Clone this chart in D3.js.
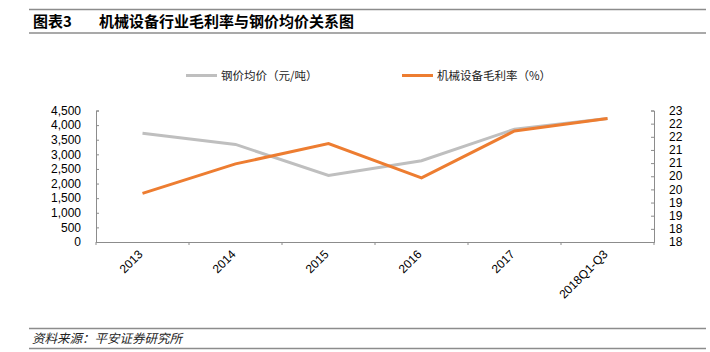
<!DOCTYPE html>
<html>
<head>
<meta charset="utf-8">
<script src="https://cdn.jsdelivr.net/npm/d3@7"></script>
<style>
  body { margin: 0; background: #fff; }
  text { font-family: "Liberation Sans", Arial, "Noto Sans CJK SC", sans-serif; }
  .cjk { font-family: "Noto Sans CJK SC", sans-serif; }
</style>
</head>
<body>
<div id="chart"></div>
<script>
// ******* Data *******
var categories = ["2013", "2014", "2015", "2016", "2017", "2018Q1-Q3"];
var steelPrice = [3720, 3340, 2280, 2780, 3860, 4230];      // 元/吨, left axis
var grossMargin = [19.85, 20.97, 21.74, 20.44, 22.22, 22.70]; // %, right axis
var leftTicks = [0, 500, 1000, 1500, 2000, 2500, 3000, 3500, 4000, 4500];
var rightTicks = [18, 18.5, 19, 19.5, 20, 20.5, 21, 21.5, 22, 22.5, 23];
var rightTickLabels = ["18", "18", "19", "19", "20", "20", "21", "21", "22", "22", "23"];
var seriesNames = ["钢价均价（元/吨）", "机械设备毛利率（%）"];
var colour = ["#BFBFBF", "#ED7D31"];

// ******* Set up *******
var w = 710, h = 352;
var plotLeft = 96, plotRight = 654, plotTop = 110.5, plotBottom = 242;
var svg = d3.select("#chart").append("svg").attr("width", w).attr("height", h);

var x = d3.scaleBand().domain(categories).range([plotLeft, plotRight]);
var yL = d3.scaleLinear().domain([0, 4500]).range([plotBottom, plotTop]);
var yR = d3.scaleLinear().domain([18, 23]).range([plotBottom, plotTop]);

// ******* Title and footer rules *******
svg.append("line").attr("x1", 29).attr("x2", 706).attr("y1", 9.5).attr("y2", 9.5)
  .attr("stroke", "#8c8c8c").attr("stroke-width", 1.5);
svg.append("line").attr("x1", 29).attr("x2", 706).attr("y1", 33).attr("y2", 33)
  .attr("stroke", "#8c8c8c").attr("stroke-width", 1.5);
svg.append("text").attr("class", "cjk").attr("x", 33).attr("y", 27)
  .style("font-size", "15px").style("font-weight", "bold").text("图表3");
svg.append("text").attr("class", "cjk").attr("x", 99).attr("y", 27)
  .style("font-size", "15px").style("font-weight", "bold").text("机械设备行业毛利率与钢价均价关系图");

svg.append("line").attr("x1", 29).attr("x2", 706).attr("y1", 328.5).attr("y2", 328.5)
  .attr("stroke", "#8c8c8c").attr("stroke-width", 1.5);
svg.append("line").attr("x1", 29).attr("x2", 706).attr("y1", 348.5).attr("y2", 348.5)
  .attr("stroke", "#8c8c8c").attr("stroke-width", 1.5);
svg.append("text").attr("class", "cjk").attr("x", 32).attr("y", 343)
  .style("font-size", "12.5px").style("font-style", "italic").attr("fill", "#222")
  .text("资料来源：平安证券研究所");

// ******* Axes *******
var axisColour = "#8c8c8c";
var gL = svg.append("g").attr("transform", `translate(${plotLeft},0)`)
  .call(d3.axisRight(yL).tickValues(leftTicks).tickSize(3).tickFormat(""));
var gR = svg.append("g").attr("transform", `translate(${plotRight},0)`)
  .call(d3.axisLeft(yR).tickValues(rightTicks).tickSize(3).tickFormat(""));
var gX = svg.append("g").attr("transform", `translate(0,${plotBottom})`)
  .call(d3.axisBottom(x).tickSize(0).tickFormat(""));
[gL, gR, gX].forEach(g => {
  g.select(".domain").attr("stroke", axisColour);
  g.selectAll(".tick line").attr("stroke", axisColour);
});

// x tick marks at band edges
svg.selectAll(".xtick")
  .data(categories.concat(["end"]))
  .enter().append("line")
  .attr("x1", (d, i) => i < categories.length ? x(d) : plotRight)
  .attr("x2", (d, i) => i < categories.length ? x(d) : plotRight)
  .attr("y1", plotBottom).attr("y2", plotBottom + 3)
  .attr("stroke", axisColour);

// tick labels
svg.selectAll(".ylabel")
  .data(leftTicks).enter().append("text")
  .attr("x", 81).attr("y", d => yL(d)).attr("dy", "0.35em")
  .attr("text-anchor", "end").style("font-size", "12px")
  .text(d => d3.format(",")(d));

svg.selectAll(".rlabel")
  .data(rightTicks).enter().append("text")
  .attr("x", 669).attr("y", d => yR(d)).attr("dy", "0.35em")
  .style("font-size", "12px")
  .text((d, i) => rightTickLabels[i]);

svg.selectAll(".xlabel")
  .data(categories).enter().append("text")
  .attr("transform", d => `translate(${x(d) + x.bandwidth() / 2 + 1},${plotBottom + 13}) rotate(-45)`)
  .attr("text-anchor", "end").style("font-size", "12px")
  .text(d => d);

// ******* Lines *******
var lineL = d3.line().x((d, i) => x(categories[i]) + x.bandwidth() / 2).y(d => yL(d));
var lineR = d3.line().x((d, i) => x(categories[i]) + x.bandwidth() / 2).y(d => yR(d));

svg.append("path").attr("d", lineL(steelPrice))
  .attr("fill", "none").attr("stroke", colour[0]).attr("stroke-width", 3);
svg.append("path").attr("d", lineR(grossMargin))
  .attr("fill", "none").attr("stroke", colour[1]).attr("stroke-width", 3);

// ******* Legend *******
var legendX = [186, 402];
seriesNames.forEach((name, i) => {
  svg.append("line").attr("x1", legendX[i]).attr("x2", legendX[i] + 31)
    .attr("y1", 75.5).attr("y2", 75.5)
    .attr("stroke", colour[i]).attr("stroke-width", 3);
  svg.append("text").attr("class", "cjk").attr("x", legendX[i] + 35).attr("y", 75.5)
    .attr("dy", "0.35em").style("font-size", "11.5px").attr("fill", "#222")
    .text(name);
});
</script>
</body>
</html>
